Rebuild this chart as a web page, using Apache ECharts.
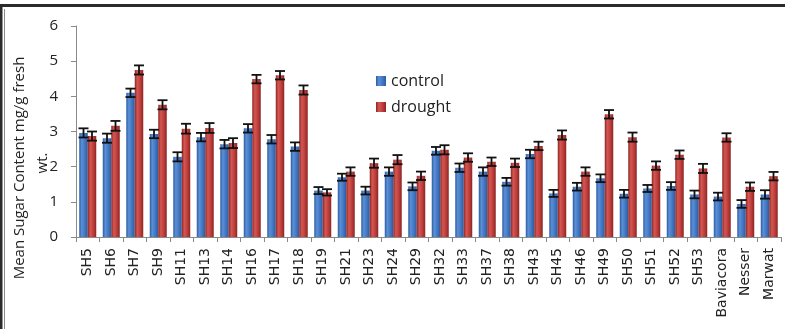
<!DOCTYPE html>
<html>
<head>
<meta charset="utf-8">
<script src="https://cdn.jsdelivr.net/npm/echarts@6/dist/echarts.min.js"></script>
<style>
  html, body { margin: 0; padding: 0; background: #fff; }
  #chart { width: 785px; height: 329px; }
</style>
</head>
<body>
<div id="chart"></div>
<script>
// Genotypes / varieties on the category axis
const genotypes = ['SH5','SH6','SH7','SH9','SH11','SH13','SH14','SH16','SH17','SH18','SH19','SH21','SH23','SH24','SH29','SH32','SH33','SH37','SH38','SH43','SH45','SH46','SH49','SH50','SH51','SH52','SH53','Baviacora','Nesser','Marwat'];

// Mean sugar content (mg/g fresh wt.)
const controlMeans = [2.96,2.81,4.10,2.93,2.28,2.84,2.64,3.09,2.78,2.57,1.32,1.70,1.32,1.86,1.44,2.45,1.97,1.86,1.57,2.36,1.24,1.43,1.67,1.23,1.38,1.45,1.21,1.15,0.94,1.21];
const droughtMeans = [2.87,3.16,4.75,3.76,3.08,3.10,2.67,4.49,4.60,4.18,1.27,1.86,2.10,2.20,1.74,2.48,2.26,2.14,2.11,2.59,2.90,1.86,3.49,2.84,2.03,2.34,1.95,2.83,1.43,1.73];

// Standard errors
const controlErr = [0.13,0.13,0.12,0.12,0.13,0.12,0.12,0.12,0.12,0.12,0.10,0.10,0.11,0.12,0.11,0.11,0.12,0.12,0.11,0.12,0.10,0.11,0.11,0.11,0.10,0.11,0.11,0.11,0.11,0.12];
const droughtErr = [0.13,0.14,0.13,0.13,0.14,0.14,0.14,0.12,0.12,0.13,0.09,0.12,0.13,0.13,0.12,0.13,0.12,0.12,0.12,0.12,0.13,0.12,0.12,0.13,0.12,0.12,0.13,0.12,0.12,0.12];

// Y axis ticks
const yMin = 0, yMax = 6, yStep = 1;

const BAR_W = 8.5;

function barGradient(edge, mid, light) {
  return new echarts.graphic.LinearGradient(0, 0, 1, 0, [
    { offset: 0, color: edge },
    { offset: 0.3, color: light },
    { offset: 0.65, color: mid },
    { offset: 1, color: edge }
  ]);
}
const blueFill = barGradient('#2c5ca0', '#4377c2', '#5b90d8');
const redFill = barGradient('#8a2623', '#bf3e3b', '#d45753');

function errorSeries(means, errs, offset) {
  return {
    type: 'custom',
    silent: true,
    z: 5,
    data: means.map((m, i) => [i, m, errs[i]]),
    renderItem: function (params, api) {
      const i = api.value(0), m = api.value(1), e = api.value(2);
      const top = api.coord([i, m + e]);
      const bot = api.coord([i, m - e]);
      const x = top[0] + offset;
      const cap = 5;
      const style = { stroke: '#111', lineWidth: 1.8 };
      return {
        type: 'group',
        children: [
          { type: 'line', shape: { x1: x, y1: top[1], x2: x, y2: bot[1] }, style: style },
          { type: 'line', shape: { x1: x - cap, y1: top[1], x2: x + cap, y2: top[1] }, style: style },
          { type: 'line', shape: { x1: x - cap, y1: bot[1], x2: x + cap, y2: bot[1] }, style: style }
        ]
      };
    }
  };
}

const chart = echarts.init(document.getElementById('chart'), null, { renderer: 'canvas' });

chart.setOption({
  backgroundColor: '#fff',
  animation: false,
  grid: { left: 76, right: 4, top: 26, bottom: 92, containLabel: false },
  legend: {
    orient: 'vertical',
    left: 371,
    top: 68,
    itemWidth: 10,
    itemHeight: 10,
    itemGap: 10,
    icon: 'rect',
    textStyle: { fontFamily: 'Open Sans', fontSize: 16, color: '#222' },
    data: ['control', 'drought']
  },
  xAxis: {
    type: 'category',
    data: genotypes,
    axisLine: { lineStyle: { color: '#8a8a8a', width: 1 } },
    axisTick: { show: true, alignWithLabel: false, length: 5, lineStyle: { color: '#8a8a8a' } },
    axisLabel: {
      rotate: 90,
      interval: 0,
      margin: 11,
      fontFamily: 'DejaVu Sans',
      fontSize: 14,
      color: '#222'
    }
  },
  yAxis: {
    type: 'value',
    min: yMin,
    max: yMax,
    interval: yStep,
    splitLine: { show: false },
    axisLine: { show: true, lineStyle: { color: '#8a8a8a', width: 1 } },
    axisTick: { show: true, length: 5, lineStyle: { color: '#8a8a8a' } },
    axisLabel: { margin: 18, fontFamily: 'Open Sans', fontSize: 15, color: '#222' }
  },
  series: [
    {
      name: 'control',
      type: 'bar',
      barWidth: BAR_W,
      barGap: '0%',
      data: controlMeans,
      itemStyle: { color: blueFill }
    },
    {
      name: 'drought',
      type: 'bar',
      barWidth: BAR_W,
      barGap: '0%',
      data: droughtMeans,
      itemStyle: { color: redFill }
    },
    errorSeries(controlMeans, controlErr, -BAR_W / 2),
    errorSeries(droughtMeans, droughtErr, BAR_W / 2)
  ],
  graphic: [
    // frame lines
    { type: 'rect', silent: true, shape: { x: 0, y: 4, width: 785, height: 3 }, style: { fill: '#2b2b2b' } },
    { type: 'rect', silent: true, shape: { x: 0, y: 4, width: 2.5, height: 325 }, style: { fill: '#2b2b2b' } },
    { type: 'rect', silent: true, shape: { x: 4, y: 9, width: 1, height: 320 }, style: { fill: '#8a8a8a' } },
    // y axis title (two lines)
    {
      type: 'text', silent: true,
      x: 20, y: 168, rotation: Math.PI / 2,
      style: {
        text: 'Mean Sugar Content mg/g fresh',
        fontFamily: 'Open Sans', fontSize: 15, fill: '#222',
        align: 'center', verticalAlign: 'middle'
      }
    },
    {
      type: 'text', silent: true,
      x: 43, y: 163, rotation: Math.PI / 2,
      style: {
        text: 'wt.',
        fontFamily: 'Open Sans', fontSize: 15, fill: '#222',
        align: 'center', verticalAlign: 'middle'
      }
    }
  ]
});
</script>
</body>
</html>
